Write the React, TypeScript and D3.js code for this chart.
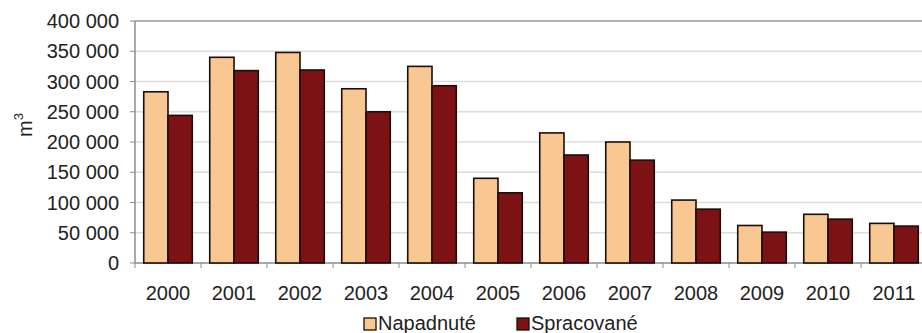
import React from "react";
import * as d3 from "d3";

const years = ["2000","2001","2002","2003","2004","2005","2006","2007","2008","2009","2010","2011"];
const napadnute = [283000, 340000, 348000, 288000, 325000, 140000, 215000, 200000, 104000, 62000, 80500, 65500];
const spracovane = [244000, 318000, 319000, 250000, 293000, 116000, 178500, 170000, 89000, 51000, 72500, 61000];
const yTicks = [0, 50000, 100000, 150000, 200000, 250000, 300000, 350000, 400000];
const seriesNames = ["Napadnuté", "Spracované"];
const colors = ["#F8C792", "#7D1214"];

const W = 922, H = 333;
const left = 135, top = 21, bottom = 263, catW = 66;

export default function App() {
  const x = d3.scaleBand<string>().domain(years).range([left, left + catW * years.length]).paddingInner(0).paddingOuter(0);
  const inner = d3.scaleBand<string>().domain(seriesNames).range([0, catW]).paddingOuter(0.36).paddingInner(0);
  const y = d3.scaleLinear().domain([0, 400000]).range([bottom, top]);
  const fmt = (v: number) => d3.format(",")(v).replace(/,/g, " ");
  const font = "Liberation Sans, Arial, sans-serif";
  const right = left + catW * years.length;
  const data = [napadnute, spracovane];
  return (
    <svg width={W} height={H} style={{ position: "absolute", left: 0, top: 0, background: "#fff" }} fontFamily={font}>
      <rect x={0} y={0} width={W} height={H} fill="#fff" />
      {yTicks.map((t) => (
        <g key={t}>
          {t > 0 && t < 400000 && <line x1={left} x2={right} y1={y(t)} y2={y(t)} stroke="#dcdcdc" strokeWidth={1.5} />}
          <line x1={left - 5} x2={left} y1={y(t)} y2={y(t)} stroke="#8c8c8c" strokeWidth={1} />
          <text x={119} y={y(t)} dy="0.36em" textAnchor="end" fontSize={20} fill="#222">{fmt(t)}</text>
        </g>
      ))}
      <line x1={left} x2={right} y1={top} y2={top} stroke="#999" strokeWidth={1.5} />
      <line x1={left} x2={left} y1={top} y2={bottom} stroke="#8c8c8c" strokeWidth={1.5} />
      <line x1={left} x2={right} y1={bottom} y2={bottom} stroke="#8c8c8c" strokeWidth={1.5} />
      {years.map((yr) => (
        <line key={"tk" + yr} x1={x(yr)!} x2={x(yr)!} y1={bottom} y2={bottom + 5} stroke="#8c8c8c" strokeWidth={1} />
      ))}
      {years.map((yr, i) => (
        <g key={yr}>
          {data.map((s, k) => (
            <rect key={k} x={x(yr)! + inner(seriesNames[k])!} y={y(s[i])} width={inner.bandwidth()} height={bottom - y(s[i])}
              fill={colors[k]} stroke="#1a0e0c" strokeWidth={1.6} />
          ))}
          <text x={x(yr)! + catW / 2} y={299.5} textAnchor="middle" fontSize={20} fill="#222">{yr}</text>
        </g>
      ))}
      <text transform={`translate(32,125) rotate(-90)`} textAnchor="middle" fontSize={20} fill="#222">
        m<tspan dy="-9" fontSize={13}>3</tspan>
      </text>
      {seriesNames.map((n, k) => {
        const lx = k === 0 ? 364 : 517;
        return (
          <g key={n}>
            <rect x={lx} y={318} width={12} height={12} fill={colors[k]} stroke="#1a0e0c" strokeWidth={1.3} />
            <text x={lx + 14} y={330} fontSize={20} fill="#222">{n}</text>
          </g>
        );
      })}
    </svg>
  );
}
